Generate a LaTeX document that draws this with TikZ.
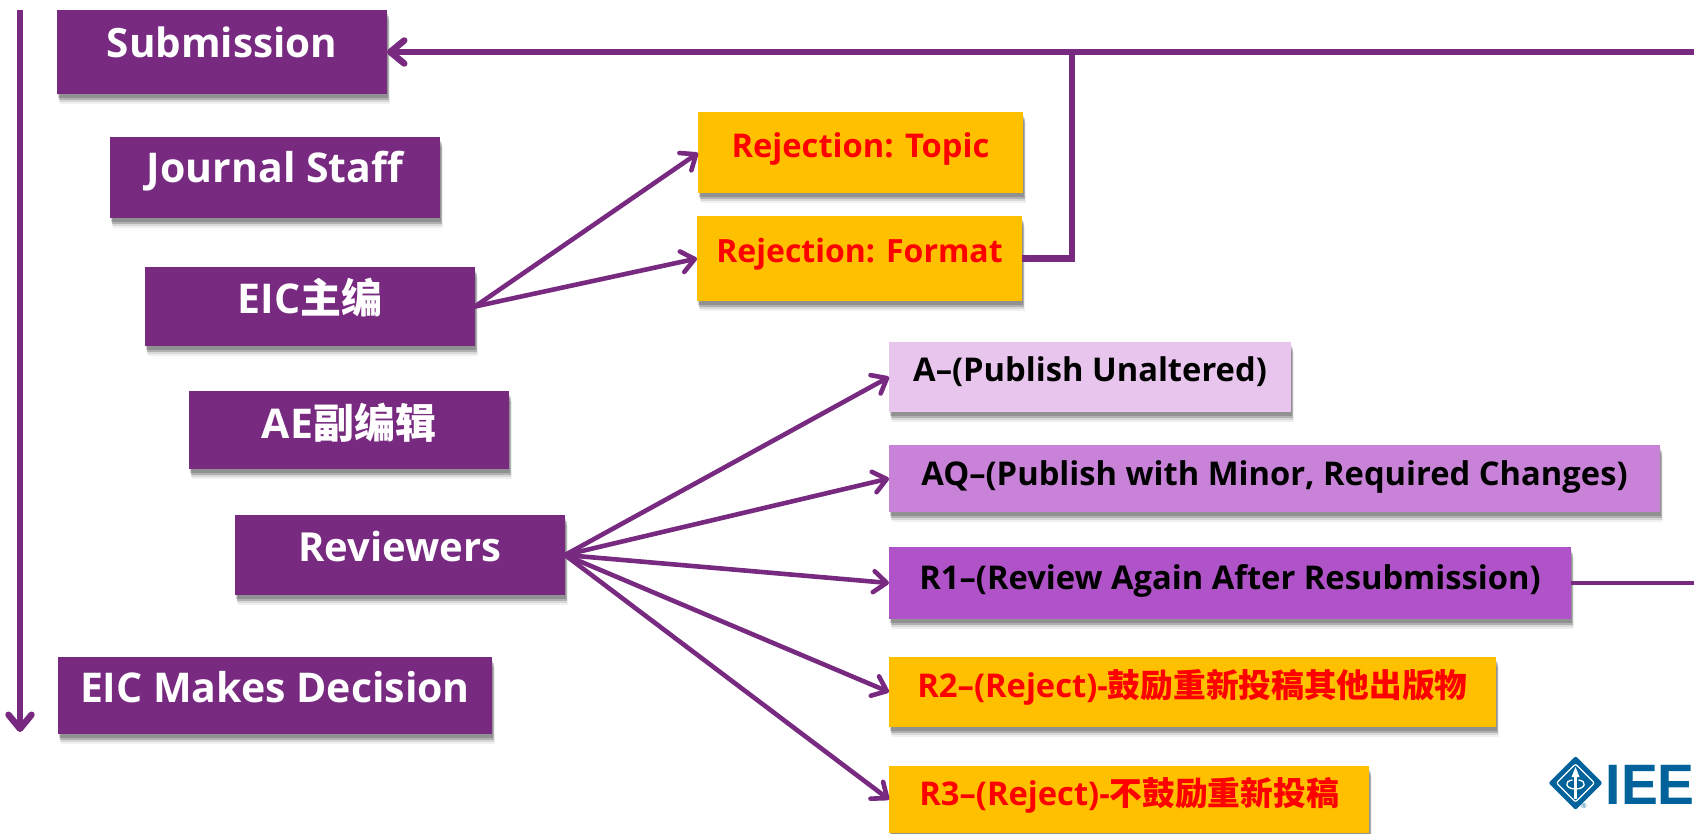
\documentclass[tikz,border=0pt]{standalone}
\usepackage{fontspec}
\setmainfont{Open Sans}
\newfontfamily\cjk{Noto Sans CJK SC}
\newfontfamily\logofont{Liberation Sans}
\usetikzlibrary{arrows.meta,shadows,calc}
\definecolor{purp}{HTML}{772A80}
\definecolor{amber}{HTML}{FFC000}
\definecolor{lilaca}{HTML}{E8C5EC}
\definecolor{lilacb}{HTML}{C883D8}
\definecolor{lilacc}{HTML}{B052C8}
\definecolor{ieeeblue}{HTML}{00629B}
\newcommand{\lbl}[2]{\smash{\raisebox{#1pt}{#2}}}
\tikzset{
  softshadow/.style={
    general shadow={fill=black,opacity=.06,shadow xshift=3pt,shadow yshift=-10pt},
    general shadow={fill=black,opacity=.10,shadow xshift=2pt,shadow yshift=-8pt},
    general shadow={fill=black,opacity=.18,shadow xshift=1.5pt,shadow yshift=-6pt},
    general shadow={fill=black,opacity=.18,shadow xshift=1pt,shadow yshift=-4pt}},
  basebox/.style={rectangle,inner sep=0,outer sep=0,softshadow,font=\bfseries},
  pbox/.style={basebox,fill=purp,text=white},
  bigtext/.style={font=\bfseries\fontsize{41}{41}\selectfont},
  obox/.style={basebox,fill=amber,text=red,font=\bfseries\fontsize{32.7}{33}\selectfont},
  lbox/.style={basebox,text=black,font=\bfseries\fontsize{32.7}{33}\selectfont},
  fan/.style={draw=purp,line width=4.6pt,line cap=round,-{Straight Barb[length=13pt,width=21pt,line width=4.6pt,round]}},
  wire/.style={draw=purp,line width=6.5pt},
}
\begin{document}
\begin{tikzpicture}[x=1pt,y=-1pt]
\useasboundingbox (0,0) rectangle (1694,834);
% left timeline
\coordinate (tltop) at (20,10);
\coordinate (tlend) at (20,732);
\draw[wire,-{Straight Barb[length=14pt,width=23pt,line width=6.5pt,round]}] (tltop) -- (tlend);
% left column
\node[pbox,font=\bfseries\fontsize{40.4}{41}\selectfont,minimum width=330pt,minimum height=84pt] (sub) at (222,52) {\lbl{-6}{Submission}};
\node[pbox,bigtext,minimum width=330pt,minimum height=81pt] (staff) at (275,177.5) {\lbl{-5.5}{Journal Staff}};
\node[pbox,bigtext,minimum width=330pt,minimum height=79pt] (eic) at (310,306.5) {\lbl{-6.5}{EIC{\cjk 主编}}};
\node[pbox,bigtext,minimum width=320pt,minimum height=78pt] (ae) at (349,430) {\lbl{-8}{AE{\cjk 副编辑}}};
\node[pbox,font=\bfseries\fontsize{40}{41}\selectfont,minimum width=330pt,minimum height=80pt] (rev) at (400,555) {\lbl{-6}{Reviewers}};
\node[pbox,bigtext,minimum width=434pt,minimum height=77pt] (dec) at (275,695.5) {\lbl{-6.5}{EIC Makes Decision}};
% rejections
\node[obox,minimum width=325pt,minimum height=81pt] (topic) at (860.5,153) {\lbl{-5}{Rejection: Topic}};
\node[obox,font=\bfseries\fontsize{32}{33}\selectfont,minimum width=325pt,minimum height=85pt] (format) at (859.5,258.5) {\lbl{-4.5}{Rejection: Format}};
% outcomes
\node[lbox,fill=lilaca,minimum width=402pt,minimum height=70pt] (a) at (1090,377) {\lbl{-4}{A–(Publish Unaltered)}};
\node[lbox,fill=lilacb,minimum width=771pt,minimum height=67pt] (aq) at (1274.5,478.5) {\lbl{-6.5}{AQ–(Publish with Minor, Required Changes)}};
\node[lbox,fill=lilacc,minimum width=682pt,minimum height=72pt] (rone) at (1230,583) {\lbl{-6}{R1–(Review Again After Resubmission)}};
\node[obox,minimum width=607pt,minimum height=70pt] (rtwo) at (1192.5,692) {\lbl{-5}{R2–(Reject)-{\cjk 鼓励重新投稿其他出版物}}};
\node[obox,minimum width=480pt,minimum height=67pt] (rthree) at (1129,799.5) {\lbl{-5.5}{R3–(Reject)-{\cjk 不鼓励重新投稿}}};
% connectors
\coordinate (topedge) at (1694,52);
\coordinate (midedge) at (1694,583);
\draw[wire,-{Straight Barb[length=14pt,width=23pt,line width=6.5pt,round]}] (topedge) -- (sub.east);
\draw[wire] (format.east) -| ($(sub.east)!0.524!(topedge)$);
\draw[fan] (eic.east) -- (topic.west);
\draw[fan] (eic.east) -- (format.west);
\draw[fan] (rev.east) -- (a.west);
\draw[fan] (rev.east) -- (aq.west);
\draw[fan] (rev.east) -- (rone.west);
\draw[fan] (rev.east) -- (rtwo.west);
\draw[fan] (rev.east) -- (rthree.west);
\draw[draw=purp,line width=4.6pt] (rone.east) -- (midedge);
% logo
\begin{scope}[shift={(1575.5,783)}]
  \fill[ieeeblue,rounded corners=2pt] (-27,0) -- (0,-27) -- (27,0) -- (0,27) -- cycle;
  \draw[white,line width=1.2pt,rounded corners=2pt] (-19,0) -- (0,-19) -- (19,0) -- (0,19) -- cycle;
  \draw[white,line width=2.5pt] (0,16) -- (0,-8);
  \fill[white] (0,-16) -- (4,-6) -- (-4,-6) -- cycle;
  \draw[white,line width=1.3pt] (-3,-3) .. controls (-12,-2) and (-10,6) .. (0,6) .. controls (10,6) and (12,-2) .. (3,-3);
\end{scope}
\node[text=ieeeblue,inner sep=0,anchor=base west,font=\logofont\bfseries\fontsize{57}{57}\selectfont] (ieee) at (1605.5,804) {\scalebox{.97}[1]{IEE}};
\node[text=ieeeblue,inner sep=0,font=\logofont\fontsize{7}{7}\selectfont] (reg) at (1584,806) {®};
\end{tikzpicture}
\end{document}
